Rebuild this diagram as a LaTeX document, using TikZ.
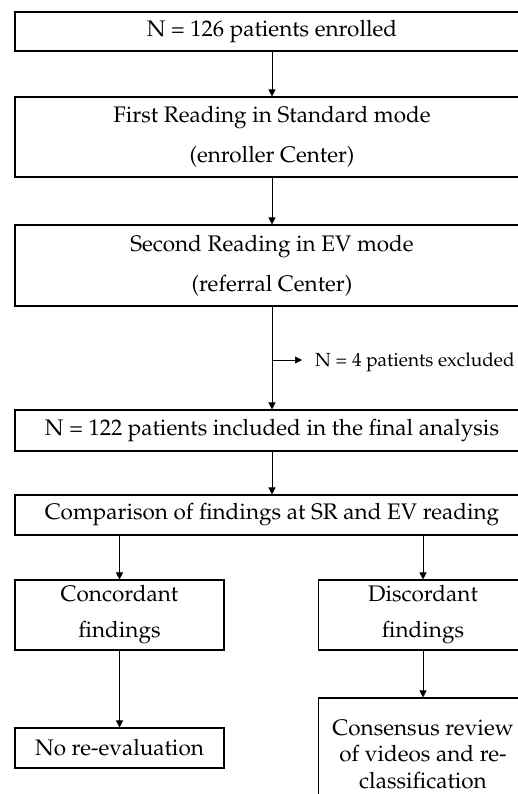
\documentclass[tikz,border=0pt]{standalone}
\usepackage[T1]{fontenc}
\usepackage{mathpazo}
\usetikzlibrary{arrows.meta}
\begin{document}
\begin{tikzpicture}[x=1pt,y=-1pt,
  box/.style={draw, line width=1.1pt, inner sep=0pt, align=center, font=\fontsize{22.5}{40}\selectfont},
  wide/.style={box, minimum width=514pt},
  half/.style={box, minimum width=209pt},
  conn/.style={line width=0.7pt, -{Triangle[length=7pt,width=7pt]}}]
\useasboundingbox (0,0) rectangle (518,794);
\clip (0,0) rectangle (518,794);
\fill[white] (0,0) rectangle (518,794);
\node[wide, minimum height=39pt] (n1) at (272,31.5) {N = 126 patients enrolled};
\node[wide, minimum height=80pt] (n2) at (272,137) {First Reading in Standard mode\\(enroller Center)};
\node[wide, minimum height=81pt] (n3) at (272,265.5) {Second Reading in EV mode\\(referral Center)};
\node[wide, minimum height=41pt] (n4) at (272,430.5) {N = 122 patients included in the final analysis};
\node[wide, minimum height=40pt] (n5) at (272,515) {Comparison of findings at SR and EV reading};
\node[half, minimum height=70pt, font=\fontsize{22.5}{36}\selectfont] (c1) at (119.5,615) {Concordant\\findings};
\node[half, minimum height=70pt, font=\fontsize{22.5}{36}\selectfont] (d1) at (423,615) {Discordant\\findings};
\node[half, minimum height=40pt] (c2) at (119.5,748) {No re-evaluation};
\node[half, minimum height=112pt, font=\fontsize{22.5}{26.5}\selectfont] (d2) at (423,754) {Consensus review\\of videos and re-\\classification};
\coordinate (ex) at (272,360);
\node[anchor=west, inner sep=0pt, font=\fontsize{19}{22}\selectfont] (excl) at (315,362) {N = 4 patients excluded};
\draw[conn] (n1) -- (n2);
\draw[conn] (n2) -- (n3);
\draw[conn] (n3) -- (n4);
\draw[conn] (ex) -- ([xshift=-13pt]excl.west |- ex);
\draw[conn] (n4) -- (n5);
\draw[conn] (n5.south -| c1) -- (c1);
\draw[conn] (n5.south -| d1) -- (d1);
\draw[conn] (c1) -- (c2);
\draw[conn] (d1) -- (d2);
\end{tikzpicture}
\end{document}
